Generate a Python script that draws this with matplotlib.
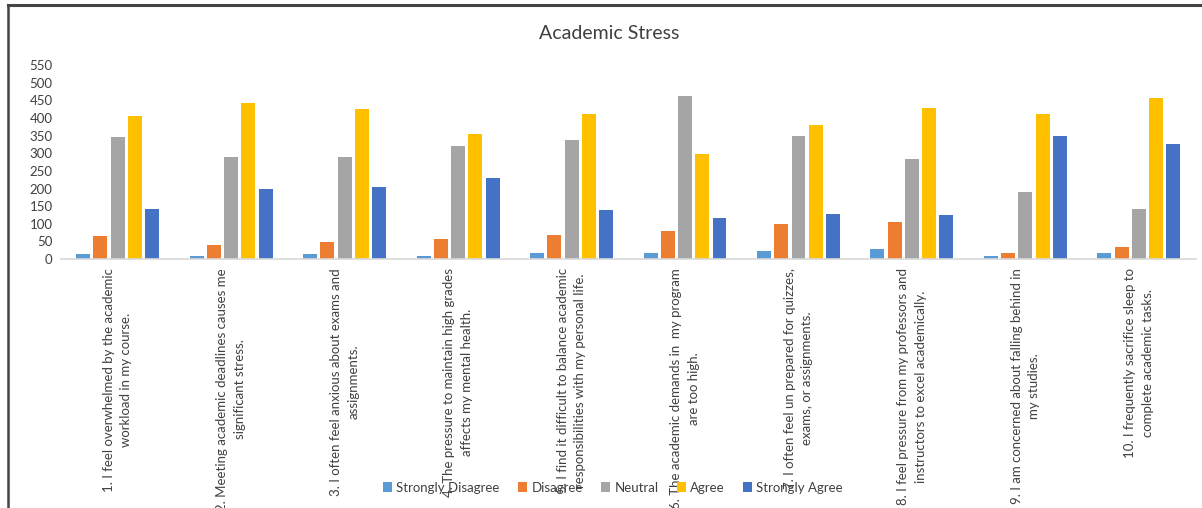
import matplotlib.pyplot as plt
import numpy as np

plt.rcParams['font.family'] = ['Lato', 'DejaVu Sans']

statements = [
    "1. I feel overwhelmed by the academic\nworkload in my course.",
    "2. Meeting academic deadlines causes me\nsignificant stress.",
    "3. I often feel anxious about exams and\nassignments.",
    "4. The pressure to maintain high grades\naffects my mental health.",
    "5. I find it difficult to balance academic\nresponsibilities with my personal life.",
    "6. The academic demands in  my program\nare too high.",
    "7. I often feel un prepared for quizzes,\nexams, or assignments.",
    "8. I feel pressure from my professors and\ninstructors to excel academically.",
    "9. I am concerned about falling behind in\nmy studies.",
    "10. I frequently sacrifice sleep to\ncomplete academic tasks.",
]
responses = ["Strongly Disagree", "Disagree", "Neutral", "Agree", "Strongly Agree"]

strongly_disagree = [14, 10, 13, 10, 17, 18, 22, 28, 9, 17]
disagree = [66, 39, 47, 58, 68, 81, 99, 105, 18, 35]
neutral = [346, 288, 288, 321, 337, 462, 348, 285, 190, 142]
agree = [405, 441, 426, 355, 412, 298, 380, 429, 410, 456]
strongly_agree = [143, 198, 203, 231, 140, 116, 128, 126, 348, 327]

colors = ['#5B9BD5', '#ED7D31', '#A5A5A5', '#FFC000', '#4472C4']

fig = plt.figure(figsize=(12.02, 5.08), dpi=100)
ax = fig.add_axes([0.0507, 0.490, 0.944, 0.382])

x = np.arange(len(statements))
step = 0.152
width = 0.123
series = [strongly_disagree, disagree, neutral, agree, strongly_agree]
for i, (vals, name) in enumerate(zip(series, responses)):
    ax.bar(x + (i - 2) * step, vals, width, color=colors[i], label=name)

ax.set_xlim(-0.5, len(statements) - 0.5)
ax.set_ylim(0, 550)
ax.set_yticks(np.arange(0, 551, 50))
ax.tick_params(axis='y', length=0, labelsize=9.5, colors='#404040', pad=6)
ax.set_xticks(x)
ax.set_xticklabels(statements, rotation=90, ha='center', va='top',
                   multialignment='center', fontsize=9.5, color='#404040',
                   linespacing=1.55)
ax.tick_params(axis='x', length=0, pad=6.5)
for s in ['top', 'right', 'left']:
    ax.spines[s].set_visible(False)
ax.spines['bottom'].set_color('#D9D9D9')
ax.spines['bottom'].set_linewidth(1.2)

fig.text(0.507, 0.935, "Academic Stress", ha='center', va='center',
         fontsize=14, color='#404040')

fig.legend(loc='center', bbox_to_anchor=(0.51, 0.04), ncol=5, frameon=False,
           fontsize=9.5, handlelength=0.7, handleheight=0.7, handletextpad=0.3,
           columnspacing=1.4, labelcolor='#404040')

# outer frame lines (top and left)
fig.add_artist(plt.Line2D([0.0067, 1.0], [0.990, 0.990], color='#444444', lw=2.2,
                          transform=fig.transFigure))
fig.add_artist(plt.Line2D([0.0067, 0.0067], [0.0, 0.990], color='#444444', lw=1.8,
                          transform=fig.transFigure))

fig.savefig('out.png', dpi=100)
